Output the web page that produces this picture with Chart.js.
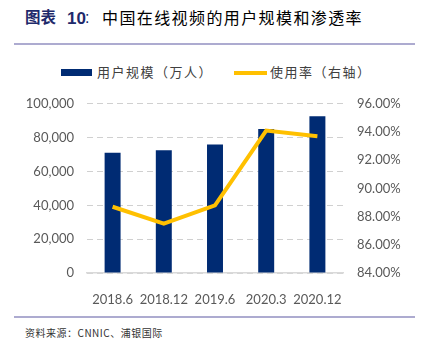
<!DOCTYPE html>
<html>
<head>
<meta charset="utf-8">
<script src="https://cdn.jsdelivr.net/npm/chart.js@4"></script>
<style>
  html, body { margin: 0; padding: 0; background: #fff; }
  body { width: 426px; height: 347px; position: relative; overflow: hidden; font-family: "Noto Sans CJK SC", sans-serif; }
  .t { position: absolute; top: 17px; transform: translateY(-50%); white-space: nowrap; line-height: 1; }
  .lead { left: 25px; color: #1F2A6B; font-weight: bold; font-size: 15.5px; letter-spacing: 0px; }
  .num { left: 67px; top: 18px; color: #1F2A6B; font-weight: bold; font-size: 17px; font-family: "Liberation Sans", sans-serif; }
  .colon { left: 85px; top: 18px; color: #1F2A6B; font-size: 16px; font-family: "Liberation Sans", sans-serif; }
  .rest { left: 102px; color: #000; font-size: 16px; letter-spacing: 1.4px; }
  .rule { position: absolute; left: 14px; width: 401px; height: 2px; background: #ADABD0; }
  #legend { position: absolute; top: 62px; left: 0; width: 426px; height: 20px; font-size: 13px; color: #404040; }
  .lg { position: absolute; top: 0; white-space: nowrap; letter-spacing: 1.5px; }
  #footer { position: absolute; left: 25px; top: 325px; font-size: 10px; color: #333; white-space: nowrap; letter-spacing: 0.5px; }
  #wrap { position: absolute; left: 0; top: 82px; width: 426px; height: 223px; }
  canvas { display: block; }
</style>
</head>
<body>
<div class="t lead">图表</div>
<div class="t num">10</div>
<div class="t colon">:</div>
<div class="t rest">中国在线视频的用户规模和渗透率</div>
<div class="rule" style="top:43px"></div>
<div id="legend">
  <div style="position:absolute;left:61px;top:7px;width:31px;height:7px;background:#002B73"></div>
  <div class="lg" style="left:97px;top:0">用户规模（万人）</div>
  <div style="position:absolute;left:234px;top:9px;width:33px;height:4px;background:#FFC000"></div>
  <div class="lg" style="left:270px;top:0">使用率（右轴）</div>
</div>
<div id="wrap"><canvas id="c" width="426" height="223"></canvas></div>
<div class="rule" style="top:316px"></div>
<div id="footer">资料来源：CNNIC、浦银国际</div>
<script>
const categories = ["2018.6", "2018.12", "2019.6", "2020.3", "2020.12"];
const users = [71000, 72486, 75877, 85044, 92677];      // 用户规模（万人）
const usageRate = [88.7, 87.5, 88.8, 94.1, 93.7];       // 使用率（%）
const leftTicks = [0, 20000, 40000, 60000, 80000, 100000];
const rightTicks = [84, 86, 88, 90, 92, 94, 96];

const tickFont = { family: "Lato", size: 13 };
const tickColor = "#595959";

new Chart(document.getElementById("c"), {
  data: {
    labels: categories,
    datasets: [
      {
        type: "line",
        label: "使用率（右轴）",
        data: usageRate,
        yAxisID: "y1",
        borderColor: "#FFC000",
        backgroundColor: "#FFC000",
        borderWidth: 4,
        pointRadius: 0,
        tension: 0,
        order: 0
      },
      {
        type: "bar",
        label: "用户规模（万人）",
        data: users,
        yAxisID: "y",
        backgroundColor: "#002B73",
        barPercentage: 0.312,
        categoryPercentage: 1,
        order: 1
      }
    ]
  },
  options: {
    responsive: false,
    animation: false,
    devicePixelRatio: 1,
    layout: { padding: { top: 9, left: 0, right: 0, bottom: 0 } },
    plugins: { legend: { display: false }, tooltip: { enabled: false } },
    scales: {
      x: {
        grid: { display: false },
        border: { display: true, color: "#D9D9D9", width: 1.5 },
        ticks: { font: tickFont, color: tickColor, padding: 11, maxRotation: 0, autoSkip: false },
        afterFit: (s) => { s.height = 32; }
      },
      y: {
        position: "left",
        min: 0, max: 100000,
        afterBuildTicks: (s) => { s.ticks = leftTicks.map(v => ({ value: v })); },
        grid: { color: "#D0D0D0", lineWidth: 1, drawTicks: false },
        border: { display: false, dash: [6, 4] },
        ticks: { font: tickFont, color: tickColor, padding: 13,
          callback: (v) => v.toLocaleString("en-US") },
        afterFit: (s) => { s.width = 87; }
      },
      y1: {
        position: "right",
        min: 84, max: 96,
        afterBuildTicks: (s) => { s.ticks = rightTicks.map(v => ({ value: v })); },
        grid: { display: false, drawTicks: false },
        border: { display: false },
        ticks: { font: tickFont, color: tickColor, padding: 14,
          callback: (v) => Number(v).toFixed(2) + "%" },
        afterFit: (s) => { s.width = 83; }
      }
    }
  }
});
</script>
</body>
</html>
